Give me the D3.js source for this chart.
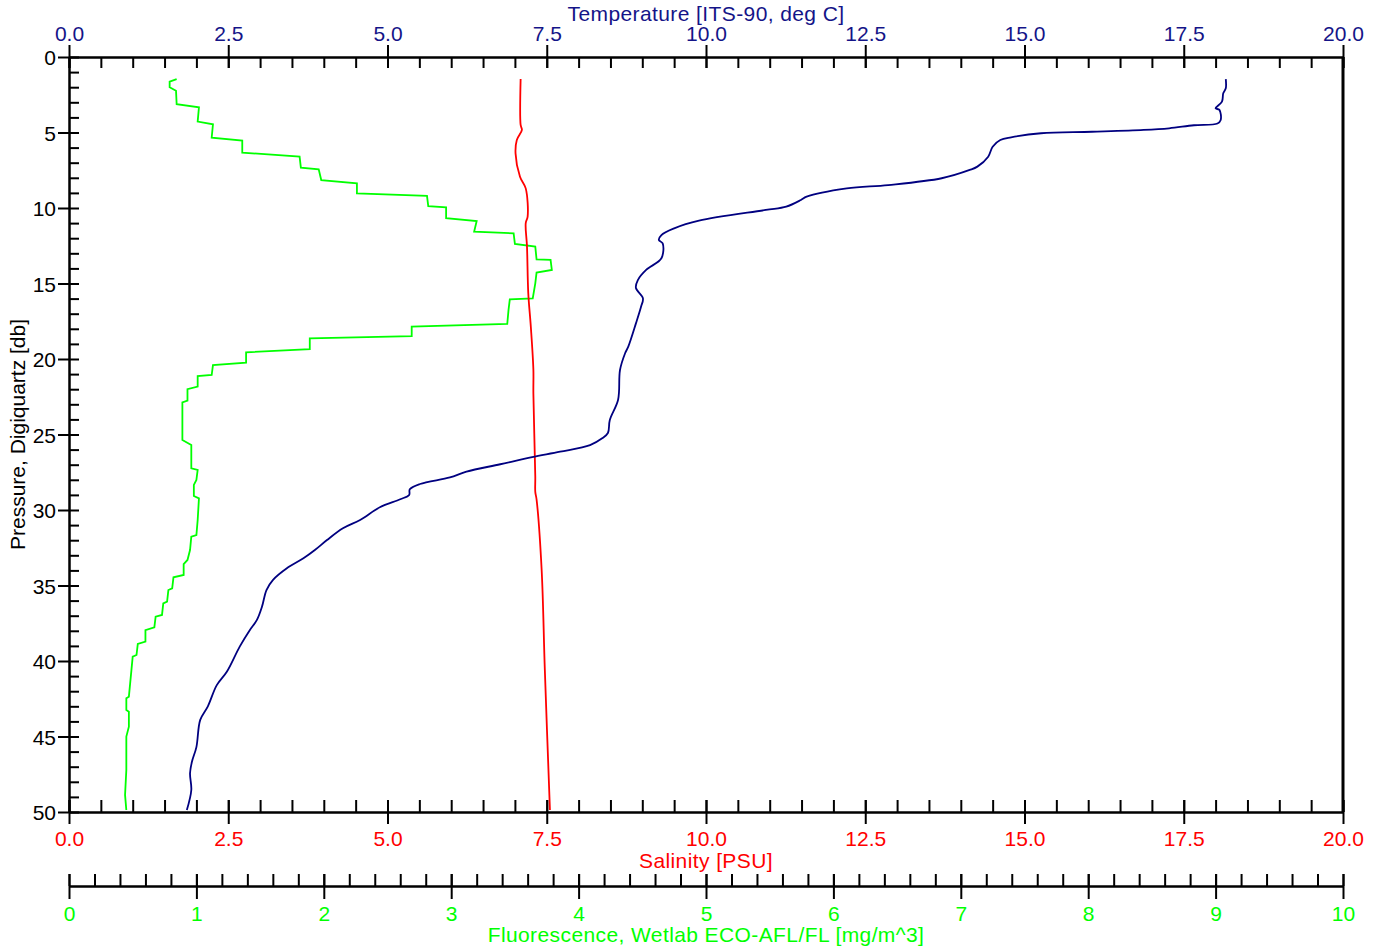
<!DOCTYPE html>
<html>
<head>
<meta charset="utf-8">
<script src="https://cdn.jsdelivr.net/npm/d3@7"></script>
<style>
  body { margin: 0; background: #fff; }
  text { font-family: "Liberation Sans", Arial, sans-serif; }
</style>
</head>
<body>
<div id="chart"></div>
<script>
// ---------------- data ----------------
const tempTicks = [0, 2.5, 5, 7.5, 10, 12.5, 15, 17.5, 20];
const salTicks = [0, 2.5, 5, 7.5, 10, 12.5, 15, 17.5, 20];
const fluorTicks = [0, 1, 2, 3, 4, 5, 6, 7, 8, 9, 10];
const pressTicks = [0, 5, 10, 15, 20, 25, 30, 35, 40, 45, 50];

// temperature profile
const tempP = [1.46, 2.07, 2.4, 2.96, 3.4, 3.5, 4.17, 4.4, 4.52, 4.72, 4.83, 4.95, 5.05, 5.32, 5.5, 5.94,
  6.6, 7.26, 7.48, 8.03, 8.48, 8.7, 9.25, 9.47, 9.91, 10.13, 10.84, 11.35, 11.79, 12.12, 12.34, 13.33,
  14.1, 14.77, 15.3, 15.98, 16.54, 17.64, 19.18, 19.62, 20.73, 22.7, 24.04, 24.9, 25.25, 25.7, 26.14,
  26.5, 26.97, 27.46, 27.84, 28.28, 28.63, 29.0, 29.29, 29.82, 30.66, 31.21, 31.99, 32.65, 33.2, 33.86,
  34.64, 35.3, 36.4, 37.28, 37.95, 39.05, 40.7, 41.6, 43.0, 43.9, 45.7, 46.67, 47.44, 48.54, 49.87];
const tempT = [18.16, 18.16, 18.12, 18.1, 18.0, 18.06, 18.08, 18.03, 17.66, 17.27, 16.87, 16.06, 15.26, 14.79, 14.62, 14.5,
  14.43, 14.26, 14.14, 13.7, 12.86, 12.21, 11.58, 11.49, 11.26, 10.94, 9.89, 9.5, 9.3, 9.26, 9.32, 9.3,
  9.06, 8.93, 8.9, 9.01, 8.98, 8.9, 8.78, 8.73, 8.65, 8.62, 8.49, 8.46, 8.37, 8.18, 7.71,
  7.27, 6.77, 6.24, 5.98, 5.51, 5.35, 5.34, 5.2, 4.88, 4.57, 4.3, 4.05, 3.86, 3.68, 3.42,
  3.2, 3.1, 3.03, 2.95, 2.84, 2.68, 2.48, 2.32, 2.18, 2.06, 2.0, 1.93, 1.9, 1.92, 1.85];

// salinity profile
const salP = [1.46, 4.5, 4.83, 5.5, 6.38, 7.93, 8.7, 10.57, 11.0, 12.56, 15.65, 17.86, 20.7, 22.27, 27.8, 28.8, 29.3, 33.97, 40.6, 49.87];
const salS = [7.09, 7.09, 7.11, 7.03, 7.01, 7.08, 7.17, 7.2, 7.17, 7.19, 7.21, 7.25, 7.29, 7.29, 7.32, 7.32, 7.34, 7.42, 7.47, 7.55];

// fluorescence profile
const fluP = [1.46, 1.63, 2.0, 2.23, 3.13, 3.33, 4.28, 4.46, 5.34, 5.54, 6.33, 6.6, 7.33, 7.44, 8.15, 8.37, 9.03, 9.2, 9.87,
  9.96, 10.68, 10.86, 11.57, 11.68, 12.38, 12.56, 13.4, 13.44, 14.1, 14.28, 14.99, 15.98, 16.05, 16.75, 17.68, 17.86,
  18.48, 18.63, 19.34, 19.56, 20.24, 20.4, 21.06, 21.13, 21.83, 22.0, 22.76, 22.87, 25.36, 25.7, 27.24, 27.35, 28.01,
  28.34, 29.07, 29.23, 30.66, 31.66, 31.77, 32.65, 33.31, 33.58, 34.3, 34.46, 35.19, 35.3, 36.07, 36.18, 36.95, 37.07,
  37.77, 37.95, 38.72, 38.87, 39.6, 39.71, 40.6, 41.48, 42.36, 42.47, 43.25, 43.36, 44.35, 45.01, 47.22, 48.87, 49.87];
const fluF = [0.845, 0.79, 0.79, 0.84, 0.845, 1.02, 1.01, 1.13, 1.12, 1.36, 1.36, 1.81, 1.82, 1.96, 1.98, 2.26, 2.26, 2.81, 2.82,
  2.96, 2.96, 3.2, 3.18, 3.49, 3.5, 3.66, 3.67, 3.78, 3.79, 3.67, 3.66, 3.64, 3.46, 3.45, 3.44, 2.69,
  2.69, 1.89, 1.89, 1.39, 1.39, 1.13, 1.12, 1.01, 1.01, 0.93, 0.93, 0.89, 0.89, 0.96, 0.96, 1.01, 1.0,
  0.98, 0.98, 1.02, 1.01, 1.0, 0.96, 0.95, 0.93, 0.9, 0.9, 0.82, 0.81, 0.78, 0.77, 0.74, 0.73, 0.68,
  0.67, 0.6, 0.6, 0.54, 0.53, 0.5, 0.49, 0.48, 0.47, 0.45, 0.45, 0.47, 0.47, 0.45, 0.45, 0.44, 0.45];

// ---------------- layout ----------------
const width = 1383;
const height = 951;
const plotL = 69, plotR = 1343, plotT = 57, plotB = 812, fluY = 886;
const fontSize = 21;
const navy = '#141488';
const red = '#ff0000';
const green = '#00ff00';

const svg = d3.select('#chart').append('svg')
  .attr('width', width)
  .attr('height', height);

const x = d3.scaleLinear().domain([0, 20]).range([plotL, plotR]);
const xf = d3.scaleLinear().domain([0, 10]).range([plotL, plotR]);
const y = d3.scaleLinear().domain([0, 50]).range([plotT, plotB]);

function styleAxis(g, color) {
  g.select('.domain').attr('stroke', '#000').attr('stroke-width', 2);
  g.selectAll('.tick line').attr('stroke', '#000').attr('stroke-width', 2);
  g.selectAll('.tick text').attr('fill', color).attr('font-size', fontSize)
    .attr('font-family', '"Liberation Sans", Arial, sans-serif');
}

// ---------------- top axis: temperature ----------------
svg.append('g')
  .attr('transform', `translate(0,${plotT})`)
  .call(d3.axisTop(x).tickValues(d3.range(0, 20.01, 0.5)).tickSize(-11).tickSizeOuter(0).tickFormat(''))
  .call(g => styleAxis(g, navy));
svg.append('g')
  .attr('transform', `translate(0,${plotT})`)
  .call(d3.axisTop(x).tickValues(tempTicks).tickSize(12).tickSizeOuter(0).tickFormat(d3.format('.1f')))
  .call(g => styleAxis(g, navy))
  .call(g => g.selectAll('.tick line').attr('y1', 11))
  .call(g => g.selectAll('.tick text').attr('y', -16));

// ---------------- left axis: pressure ----------------
svg.append('g')
  .attr('transform', `translate(${plotL},0)`)
  .call(d3.axisLeft(y).tickValues(d3.range(0, 50.01, 1)).tickSize(-10).tickSizeOuter(0).tickFormat(''))
  .call(g => styleAxis(g, '#000'));
svg.append('g')
  .attr('transform', `translate(${plotL},0)`)
  .call(d3.axisLeft(y).tickValues(pressTicks).tickSize(11).tickSizeOuter(0).tickFormat(d3.format('d')))
  .call(g => styleAxis(g, '#000'))
  .call(g => g.selectAll('.tick text').attr('x', -13).attr('dy', '0.36em'));

// ---------------- bottom axis: salinity ----------------
svg.append('g')
  .attr('transform', `translate(0,${plotB})`)
  .call(d3.axisBottom(x).tickValues(d3.range(0, 20.01, 0.5)).tickSize(-12).tickSizeOuter(0).tickFormat(''))
  .call(g => styleAxis(g, red));
svg.append('g')
  .attr('transform', `translate(0,${plotB})`)
  .call(d3.axisBottom(x).tickValues(salTicks).tickSize(12).tickSizeOuter(0).tickFormat(d3.format('.1f')))
  .call(g => styleAxis(g, red))
  .call(g => g.selectAll('.tick line').attr('y1', -12))
  .call(g => g.selectAll('.tick text').attr('y', 19));

// ---------------- fluorescence axis ----------------
svg.append('g')
  .attr('transform', `translate(0,${fluY})`)
  .call(d3.axisBottom(xf).tickValues(d3.range(0, 10.001, 0.2)).tickSize(-12).tickSizeOuter(0).tickFormat(''))
  .call(g => styleAxis(g, green));
svg.append('g')
  .attr('transform', `translate(0,${fluY})`)
  .call(d3.axisBottom(xf).tickValues(fluorTicks).tickSize(13).tickSizeOuter(0).tickFormat(d3.format('d')))
  .call(g => styleAxis(g, green))
  .call(g => g.selectAll('.tick line').attr('y1', -12))
  .call(g => g.selectAll('.tick text').attr('y', 20));

// right border
svg.append('line')
  .attr('x1', plotR).attr('x2', plotR)
  .attr('y1', plotT).attr('y2', plotB)
  .attr('stroke', '#000')
  .attr('stroke-width', 3);

// ---------------- profiles ----------------
const plot = svg.append('g').attr('class', 'profiles');

const lineT = d3.line().x((d, i) => x(tempT[i])).y(d => y(d)).curve(d3.curveCatmullRom.alpha(0.5));
const lineS = d3.line().x((d, i) => x(salS[i])).y(d => y(d)).curve(d3.curveCatmullRom.alpha(0.5));
const lineF = d3.line().x((d, i) => xf(fluF[i])).y(d => y(d));

plot.append('path').datum(fluP)
  .attr('d', lineF).attr('fill', 'none').attr('stroke', green).attr('stroke-width', 1.8);
plot.append('path').datum(salP)
  .attr('d', lineS).attr('fill', 'none').attr('stroke', red).attr('stroke-width', 1.8);
plot.append('path').datum(tempP)
  .attr('d', lineT).attr('fill', 'none').attr('stroke', '#000080').attr('stroke-width', 1.8);

// ---------------- titles ----------------
const mid = (plotL + plotR) / 2;
svg.append('text')
  .attr('x', mid).attr('y', 21)
  .attr('text-anchor', 'middle').attr('font-size', fontSize).attr('fill', navy)
  .attr('letter-spacing', 0.4)
  .text('Temperature [ITS-90, deg C]');
svg.append('text')
  .attr('x', mid).attr('y', 868)
  .attr('text-anchor', 'middle').attr('font-size', fontSize).attr('fill', red)
  .attr('letter-spacing', 0.4)
  .text('Salinity [PSU]');
svg.append('text')
  .attr('x', mid).attr('y', 942)
  .attr('text-anchor', 'middle').attr('font-size', fontSize).attr('fill', green)
  .attr('letter-spacing', 0.4)
  .text('Fluorescence, Wetlab ECO-AFL/FL [mg/m^3]');
svg.append('text')
  .attr('transform', `translate(25,${(plotT + plotB) / 2}) rotate(-90)`)
  .attr('text-anchor', 'middle').attr('font-size', fontSize).attr('fill', '#000')
  .text('Pressure, Digiquartz [db]');
</script>
</body>
</html>
